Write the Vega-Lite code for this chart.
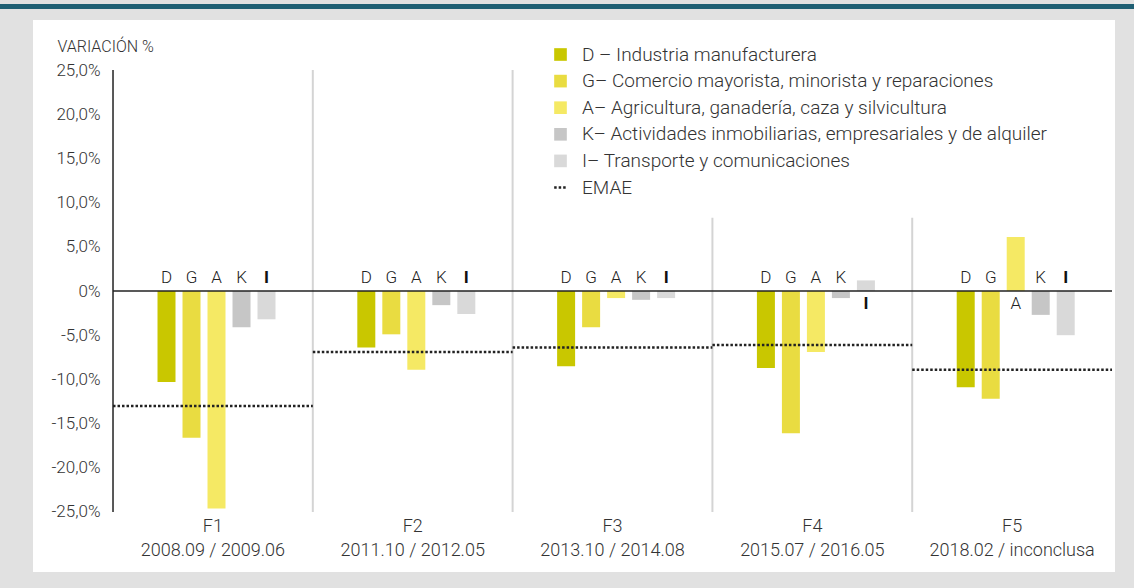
{
  "$schema": "https://vega.github.io/schema/vega-lite/v6.json",
  "background": "#e1e1e1",
  "padding": {"left": 0, "top": 0, "right": 0, "bottom": 16},
  "spacing": 8,
  "center": true,
  "config": {
    "font": "Roboto",
    "axis": {"labelFont": "Roboto", "titleFont": "Roboto", "labelColor": "#333", "titleColor": "#333"},
    "legend": {"labelFont": "Roboto"}
  },
  "datasets": {
    "sectores": [
      {"fase": "F1\n2008.09 / 2009.06", "letra": "D", "serie": "D – Industria manufacturera", "valor": -10.3},
      {"fase": "F1\n2008.09 / 2009.06", "letra": "G", "serie": "G– Comercio mayorista, minorista y reparaciones", "valor": -16.6},
      {"fase": "F1\n2008.09 / 2009.06", "letra": "A", "serie": "A– Agricultura, ganadería, caza y silvicultura", "valor": -24.6},
      {"fase": "F1\n2008.09 / 2009.06", "letra": "K", "serie": "K– Actividades inmobiliarias, empresariales y de alquiler", "valor": -4.1},
      {"fase": "F1\n2008.09 / 2009.06", "letra": "I", "serie": "I– Transporte y comunicaciones", "valor": -3.2},
      {"fase": "F2\n2011.10 / 2012.05", "letra": "D", "serie": "D – Industria manufacturera", "valor": -6.4},
      {"fase": "F2\n2011.10 / 2012.05", "letra": "G", "serie": "G– Comercio mayorista, minorista y reparaciones", "valor": -4.9},
      {"fase": "F2\n2011.10 / 2012.05", "letra": "A", "serie": "A– Agricultura, ganadería, caza y silvicultura", "valor": -8.9},
      {"fase": "F2\n2011.10 / 2012.05", "letra": "K", "serie": "K– Actividades inmobiliarias, empresariales y de alquiler", "valor": -1.6},
      {"fase": "F2\n2011.10 / 2012.05", "letra": "I", "serie": "I– Transporte y comunicaciones", "valor": -2.6},
      {"fase": "F3\n2013.10 / 2014.08", "letra": "D", "serie": "D – Industria manufacturera", "valor": -8.5},
      {"fase": "F3\n2013.10 / 2014.08", "letra": "G", "serie": "G– Comercio mayorista, minorista y reparaciones", "valor": -4.1},
      {"fase": "F3\n2013.10 / 2014.08", "letra": "A", "serie": "A– Agricultura, ganadería, caza y silvicultura", "valor": -0.8},
      {"fase": "F3\n2013.10 / 2014.08", "letra": "K", "serie": "K– Actividades inmobiliarias, empresariales y de alquiler", "valor": -1.0},
      {"fase": "F3\n2013.10 / 2014.08", "letra": "I", "serie": "I– Transporte y comunicaciones", "valor": -0.8},
      {"fase": "F4\n2015.07 / 2016.05", "letra": "D", "serie": "D – Industria manufacturera", "valor": -8.7},
      {"fase": "F4\n2015.07 / 2016.05", "letra": "G", "serie": "G– Comercio mayorista, minorista y reparaciones", "valor": -16.1},
      {"fase": "F4\n2015.07 / 2016.05", "letra": "A", "serie": "A– Agricultura, ganadería, caza y silvicultura", "valor": -6.9},
      {"fase": "F4\n2015.07 / 2016.05", "letra": "K", "serie": "K– Actividades inmobiliarias, empresariales y de alquiler", "valor": -0.8},
      {"fase": "F4\n2015.07 / 2016.05", "letra": "I", "serie": "I– Transporte y comunicaciones", "valor": 1.2},
      {"fase": "F5\n2018.02 / inconclusa", "letra": "D", "serie": "D – Industria manufacturera", "valor": -10.9},
      {"fase": "F5\n2018.02 / inconclusa", "letra": "G", "serie": "G– Comercio mayorista, minorista y reparaciones", "valor": -12.2},
      {"fase": "F5\n2018.02 / inconclusa", "letra": "A", "serie": "A– Agricultura, ganadería, caza y silvicultura", "valor": 6.1},
      {"fase": "F5\n2018.02 / inconclusa", "letra": "K", "serie": "K– Actividades inmobiliarias, empresariales y de alquiler", "valor": -2.7},
      {"fase": "F5\n2018.02 / inconclusa", "letra": "I", "serie": "I– Transporte y comunicaciones", "valor": -5.0}
    ],
    "emae": [
      {"fase": "F1\n2008.09 / 2009.06", "emae": -13.0},
      {"fase": "F2\n2011.10 / 2012.05", "emae": -6.9},
      {"fase": "F3\n2013.10 / 2014.08", "emae": -6.4},
      {"fase": "F4\n2015.07 / 2016.05", "emae": -6.1},
      {"fase": "F5\n2018.02 / inconclusa", "emae": -8.9}
    ],
    "separadores": [
      {"fase": "F1\n2008.09 / 2009.06", "tope": 25},
      {"fase": "F2\n2011.10 / 2012.05", "tope": 25},
      {"fase": "F3\n2013.10 / 2014.08", "tope": 8.3},
      {"fase": "F4\n2015.07 / 2016.05", "tope": 8.3}
    ]
  },
  "vconcat": [
    {
      "width": 1148,
      "height": 5,
      "view": {"fill": "#1f5f73", "stroke": null},
      "data": {"values": [{}]},
      "mark": {"type": "text"},
      "encoding": {"text": {"value": ""}}
    },
    {
      "width": 1082,
      "height": 552,
      "view": {"fill": "white", "stroke": null},
      "layer": [
        {
          "data": {"name": "separadores"},
          "mark": {"type": "rule", "color": "#d4d4d4", "strokeWidth": 2},
          "encoding": {
            "x": {"field": "fase", "type": "nominal", "bandPosition": 1},
            "y": {"field": "tope", "type": "quantitative"},
            "y2": {"datum": -25}
          }
        },
        {
          "data": {"values": [{}]},
          "mark": {"type": "rule", "color": "#222", "strokeWidth": 1.5},
          "encoding": {
            "x": {"datum": "F1\n2008.09 / 2009.06", "type": "nominal", "bandPosition": 0},
            "y": {"datum": 25, "type": "quantitative"},
            "y2": {"datum": -25}
          }
        },
        {
          "data": {"name": "sectores"},
          "mark": {"type": "bar"},
          "encoding": {
            "x": {
              "field": "fase", "type": "nominal",
              "scale": {"paddingInner": 0, "paddingOuter": 0.2077, "align": 0.964},
              "axis": {
                "orient": "bottom", "offset": -60, "title": null, "domain": false, "ticks": false,
                "labelAngle": 0, "labelAlign": "center", "labelPadding": 14, "labelFontSize": 18, "labelFontWeight": 300,
                "labelLineHeight": 24, "labelColor": "#333",
                "labelExpr": "split(datum.label, '\\n')"
              }
            },
            "xOffset": {
              "field": "letra", "type": "nominal",
              "scale": {"domain": ["D", "G", "A", "K", "I"], "range": [41, 166], "paddingInner": 0.28, "paddingOuter": 0.14}
            },
            "y": {
              "field": "valor", "type": "quantitative",
              "scale": {"domain": [-31.79, 30.66], "nice": false, "zero": false},
              "axis": {
                "orient": "left", "offset": -80, "domain": false, "ticks": false, "grid": false,
                "values": [-25, -20, -15, -10, -5, 0, 5, 10, 15, 20, 25],
                "labelPadding": 13, "labelFontSize": 17, "labelFontWeight": 300,
                "labelExpr": "datum.value === 0 ? '0%' : replace(replace(format(datum.value, '.1f'), '.', ','), '\u2212', '-') + '%'",
                "title": "VARIACIÓN %", "titleAngle": 0, "titleAlign": "left", "titleBaseline": "middle",
                "titleX": -56, "titleY": 26, "titleFontSize": 16, "titleFontWeight": 300
              }
            },
            "y2": {"datum": 0},
            "color": {
              "field": "serie", "type": "nominal",
              "scale": {
                "domain": [
                  "D – Industria manufacturera",
                  "G– Comercio mayorista, minorista y reparaciones",
                  "A– Agricultura, ganadería, caza y silvicultura",
                  "K– Actividades inmobiliarias, empresariales y de alquiler",
                  "I– Transporte y comunicaciones",
                  "EMAE"
                ],
                "range": ["#c9c700", "#e9dc41", "#f5e964", "#c6c6c6", "#d9d9d9", "#222222"]
              },
              "legend": {
                "orient": "none", "legendX": 551, "legendY": 41, "title": null, "padding": 0,
                "symbolType": "square", "symbolSize": 160, "symbolStrokeWidth": 0,
                "labelFontSize": 19, "labelFontWeight": 300, "labelColor": "#333",
                "labelLimit": 700, "labelOffset": 12, "rowPadding": 6.6,
                "encode": {
                  "symbols": {
                    "update": {
                      "shape": {"signal": "datum.value === 'EMAE' ? 'stroke' : 'square'"},
                      "stroke": {"signal": "datum.value === 'EMAE' ? '#222' : 'transparent'"},
                      "strokeWidth": {"signal": "datum.value === 'EMAE' ? 2.5 : 0"},
                      "strokeDash": {"signal": "datum.value === 'EMAE' ? [2.5, 2] : [1, 0]"}
                    }
                  }
                }
              }
            }
          }
        },
        {
          "data": {"values": [{}]},
          "mark": {"type": "rule", "color": "#222", "strokeWidth": 1.5},
          "encoding": {
            "x": {"datum": "F1\n2008.09 / 2009.06", "type": "nominal", "bandPosition": 0},
            "x2": {"datum": "F5\n2018.02 / inconclusa", "bandPosition": 1},
            "y": {"datum": 0, "type": "quantitative"}
          }
        },
        {
          "data": {"name": "emae"},
          "mark": {"type": "rule", "color": "#222", "strokeWidth": 2.5, "strokeDash": [2.5, 2]},
          "encoding": {
            "x": {"field": "fase", "type": "nominal", "bandPosition": 0},
            "x2": {"field": "fase", "bandPosition": 1},
            "y": {"field": "emae", "type": "quantitative"}
          }
        },
        {
          "data": {"name": "sectores"},
          "transform": [{"filter": "datum.valor < 0 && datum.letra !== 'I'"}],
          "mark": {"type": "text", "baseline": "bottom", "dy": -4, "fontSize": 17, "fontWeight": 300, "color": "#222"},
          "encoding": {
            "x": {"field": "fase", "type": "nominal"},
            "xOffset": {"field": "letra", "type": "nominal"},
            "y": {"datum": 0, "type": "quantitative"},
            "text": {"field": "letra"}
          }
        },
        {
          "data": {"name": "sectores"},
          "transform": [{"filter": "datum.valor >= 0 && datum.letra !== 'I'"}],
          "mark": {"type": "text", "baseline": "top", "dy": 5, "fontSize": 17, "fontWeight": 300, "color": "#222"},
          "encoding": {
            "x": {"field": "fase", "type": "nominal"},
            "xOffset": {"field": "letra", "type": "nominal"},
            "y": {"datum": 0, "type": "quantitative"},
            "text": {"field": "letra"}
          }
        },
        {
          "data": {"name": "sectores"},
          "transform": [{"filter": "datum.valor < 0 && datum.letra === 'I'"}],
          "mark": {"type": "text", "baseline": "bottom", "dy": -4, "fontSize": 17, "fontWeight": "bold", "color": "#111"},
          "encoding": {
            "x": {"field": "fase", "type": "nominal"},
            "xOffset": {"field": "letra", "type": "nominal"},
            "y": {"datum": 0, "type": "quantitative"},
            "text": {"field": "letra"}
          }
        },
        {
          "data": {"name": "sectores"},
          "transform": [{"filter": "datum.valor >= 0 && datum.letra === 'I'"}],
          "mark": {"type": "text", "baseline": "top", "dy": 5, "fontSize": 17, "fontWeight": "bold", "color": "#111"},
          "encoding": {
            "x": {"field": "fase", "type": "nominal"},
            "xOffset": {"field": "letra", "type": "nominal"},
            "y": {"datum": 0, "type": "quantitative"},
            "text": {"field": "letra"}
          }
        }
      ]
    }
  ]
}
